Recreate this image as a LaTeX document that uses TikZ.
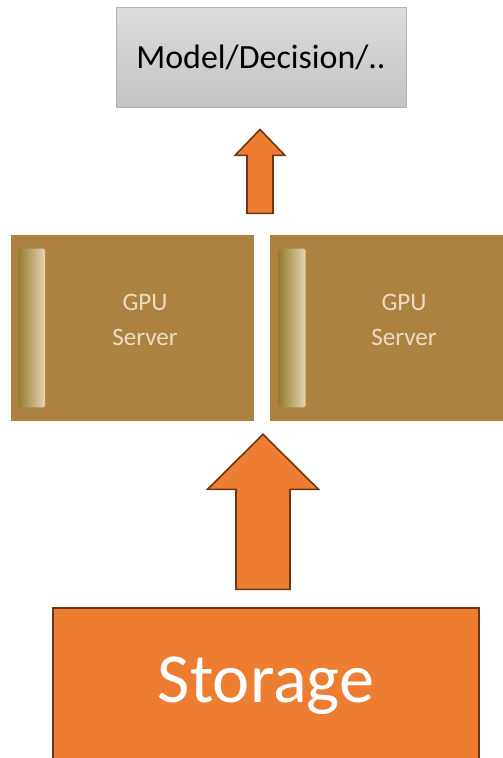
\documentclass[tikz,border=0pt]{standalone}
\usepackage{fontspec}
\setmainfont{Carlito}
\usetikzlibrary{positioning,calc}
\definecolor{storageorange}{HTML}{ED7D31}
\definecolor{arrowedge}{HTML}{6E360E}
\definecolor{gpubrown}{RGB}{173,130,64}
\definecolor{gputext}{RGB}{236,221,194}
\definecolor{bardark}{RGB}{150,124,48}
\definecolor{barlight}{RGB}{228,214,180}
\definecolor{boxtop}{RGB}{220,220,220}
\definecolor{boxbottom}{RGB}{196,196,196}
\tikzset{
  resultbox/.style={draw=gray!60,line width=0.5pt,top color=boxtop,bottom color=boxbottom,
    minimum width=5.8cm,minimum height=2cm,font=\fontsize{19.3}{23}\selectfont},
  serverbox/.style={fill=gpubrown,minimum height=3.72cm,inner sep=0pt},
  serverbar/.style={left color=bardark,right color=barlight,rounded corners=1pt,
    minimum width=0.54cm,minimum height=3.18cm,inner sep=0pt},
  servertext/.style={text=gputext,align=center,font=\fontsize{14.3}{20}\selectfont},
  storagebox/.style={draw=arrowedge,line width=0.8pt,fill=storageorange,text=white,
    minimum width=8.52cm,minimum height=3.12cm,font=\fontsize{40}{48}\selectfont},
  blockarrow/.style={draw=arrowedge,line width=0.9pt,fill=storageorange,line join=miter}
}
\begin{document}
\begin{tikzpicture}[x=0.02cm,y=-0.02cm]
  \useasboundingbox (0,0) rectangle (503,758);

  % result on top
  \node[resultbox] (model) at (261,57) {Model/Decision/..};

  % the two gpu servers
  \node[serverbox,minimum width=4.86cm] (gpuA) at (132.5,328) {};
  \node[serverbox,minimum width=4.66cm] (gpuB) at (386.5,328) {};
  \node[serverbar] (barA) at ($(gpuA.west)+(21,0)$) {};
  \node[serverbar] (barB) at ($(gpuB.west)+(22.5,0)$) {};
  \node[servertext] (txtA) at ($(gpuA.center)+(12.5,-8.5)$) {GPU\\Server};
  \node[servertext] (txtB) at ($(gpuB.center)+(17.5,-8.5)$) {GPU\\Server};

  % storage at the bottom
  \node[storagebox] (storage) at (266,686) {Storage};

  % storage -> servers
  \coordinate (bigfoot) at ($(storage.north)+(-3,-18)$);
  \coordinate (bigtip) at ($(bigfoot)+(0,-155)$);
  \draw[blockarrow] (bigfoot) ++(-27,0) -- ++(0,-100) -- ++(-28.5,0) -- (bigtip)
    -- ++(55.5,55) -- ++(-28.5,0) -- ++(0,100) -- cycle;

  % servers -> model
  \coordinate (smallfoot) at ($(model.south)+(-1,106)$);
  \coordinate (smalltip) at ($(smallfoot)+(0,-84)$);
  \draw[blockarrow] (smallfoot) ++(-13,0) -- ++(0,-58) -- ++(-12,0) -- (smalltip)
    -- ++(25,26) -- ++(-12,0) -- ++(0,58) -- cycle;
\end{tikzpicture}
\end{document}
